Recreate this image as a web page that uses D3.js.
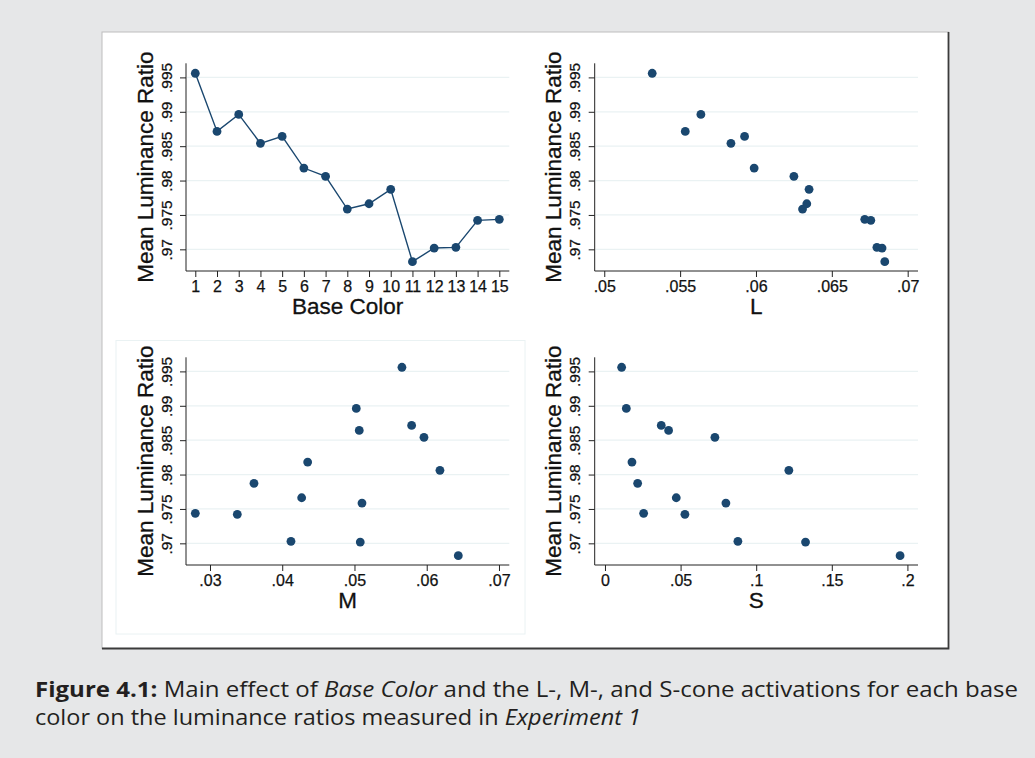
<!DOCTYPE html>
<html>
<head>
<meta charset="utf-8">
<script src="https://cdn.jsdelivr.net/npm/d3@7"></script>
<style>
  body { margin: 0; background: #e6e7e8; }
  svg text { font-family: "Liberation Sans", Arial, sans-serif; }
</style>
</head>
<body>
<div id="fig"></div>
<script>
// data (15 base colours)
const baseColor = [1, 2, 3, 4, 5, 6, 7, 8, 9, 10, 11, 12, 13, 14, 15];
const lumRatio = [.9956, .98715, .98962, .98541, .98642, .98182, .98061, .97586, .97663, .97872, .9682, .97019, .97029, .97422, .97436];
const coneL = [.05316, .05534, .05637, .05835, .05925, .05988, .0625, .06307, .06335, .0635, .06849, .06831, .06797, .06757, .06717];
const coneM = [.05657, .05791, .05025, .05962, .05066, .04352, .06183, .05104, .04269, .03609, .06437, .0508, .04121, .03378, .02797];
const coneS = [.01101, .03722, .0141, .07269, .04207, .01784, .12159, .07996, .04714, .0216, .19515, .13262, .08789, .05286, .02556];

// tick values
const yTicks = [.97, .975, .98, .985, .99, .995];
const baseTicks = [1, 2, 3, 4, 5, 6, 7, 8, 9, 10, 11, 12, 13, 14, 15];
const lTicks = [.05, .055, .06, .065, .07];
const mTicks = [.03, .04, .05, .06, .07];
const sTicks = [0, .05, .1, .15, .2];

const navy = "#1a476f";
const gridColor = "#eaf2f3";
const ink = "#111";

const W = 1035, H = 758;
const svg = d3.select("#fig").append("svg")
    .attr("width", W)
    .attr("height", H);

svg.append("rect").attr("width", W).attr("height", H).attr("fill", "#e6e7e8");

// white figure box with a darker right/bottom edge
svg.append("rect")
    .attr("x", 102).attr("y", 32)
    .attr("width", 846.5).attr("height", 616.5)
    .attr("fill", "#fff")
    .attr("stroke", "#bdbdbd")
    .attr("stroke-width", 1);
svg.append("path")
    .attr("d", "M948.5,32 V648.5 H102")
    .attr("fill", "none")
    .attr("stroke", "#3b3b3b")
    .attr("stroke-width", 1.8);

// faint graph-region border on the lower left panel
svg.append("rect")
    .attr("x", 116).attr("y", 340.5)
    .attr("width", 409).attr("height", 293.5)
    .attr("fill", "none")
    .attr("stroke", "#eaf2f3")
    .attr("stroke-width", 1);

const fmt = d => d === 0 ? "0" : String(+d.toFixed(4)).replace(/^0\./, ".");

const panels = [
    {dx: 0, dy: 0, x: baseColor, xDomain: [0.572, 15.46], ticks: baseTicks, title: "Base Color", line: true},
    {dx: 408.7, dy: 0, x: coneL, xDomain: [.04937, .07068], ticks: lTicks, title: "L"},
    {dx: 0, dy: 294, x: coneM, xDomain: [.02668, .07143], ticks: mTicks, title: "M"},
    {dx: 408.7, dy: 294, x: coneS, xDomain: [-.0068, .207], ticks: sTicks, title: "S"}
];

panels.forEach(p => {
    const left = 186 + p.dx, right = 509.3 + p.dx;
    const top = 63.3 + p.dy, bottom = 271 + p.dy;

    const x = d3.scaleLinear().domain(p.xDomain).range([left, right]);
    const y = d3.scaleLinear().domain([.96685, .99705]).range([bottom, top]);

    const g = svg.append("g");

    // horizontal grid
    g.append("g").selectAll("line")
        .data(yTicks)
        .enter().append("line")
        .attr("x1", left + 1).attr("x2", right)
        .attr("y1", d => y(d)).attr("y2", d => y(d))
        .attr("stroke", gridColor)
        .attr("stroke-width", 1.2);

    // axes
    const xAxis = g.append("g")
        .attr("transform", `translate(0,${bottom})`)
        .call(d3.axisBottom(x).tickValues(p.ticks).tickFormat(fmt).tickSize(6).tickPadding(4));
    xAxis.select(".domain").remove();
    xAxis.selectAll("text")
        .attr("font-size", 16)
        .attr("fill", ink)
        .attr("stroke", ink).attr("stroke-width", 0.25);

    const yAxis = g.append("g")
        .attr("transform", `translate(${left},0)`)
        .call(d3.axisLeft(y).tickValues(yTicks).tickFormat(fmt).tickSize(6));
    yAxis.select(".domain").remove();
    yAxis.selectAll("text")
        .attr("font-size", 15.5)
        .attr("fill", ink)
        .attr("stroke", ink).attr("stroke-width", 0.25)
        .attr("x", null).attr("dy", null)
        .attr("text-anchor", "middle")
        .attr("transform", "translate(-14.5,0) rotate(-90)");

    g.selectAll(".tick line").attr("stroke", "#222");

    g.append("line")
        .attr("x1", left).attr("x2", right)
        .attr("y1", bottom).attr("y2", bottom)
        .attr("stroke", "#222");
    g.append("line")
        .attr("x1", left).attr("x2", left)
        .attr("y1", top).attr("y2", bottom)
        .attr("stroke", "#222");

    // axis titles
    g.append("text")
        .attr("x", (left + right) / 2)
        .attr("y", bottom + 43)
        .attr("text-anchor", "middle")
        .attr("font-size", 22.5)
        .attr("fill", ink)
        .attr("stroke", ink).attr("stroke-width", 0.3)
        .text(p.title);
    g.append("text")
        .attr("transform", `translate(${left - 33.5},${(top + bottom) / 2}) rotate(-90)`)
        .attr("text-anchor", "middle")
        .attr("font-size", 22.5)
        .attr("fill", ink)
        .attr("stroke", ink).attr("stroke-width", 0.3)
        .text("Mean Luminance Ratio");

    const pts = p.x.map((v, i) => ({xv: v, yv: lumRatio[i]}));

    if (p.line) {
        g.append("path")
            .datum(pts)
            .attr("fill", "none")
            .attr("stroke", navy)
            .attr("stroke-width", 1.4)
            .attr("d", d3.line().x(d => x(d.xv)).y(d => y(d.yv)));
    }

    g.append("g").selectAll("circle")
        .data(pts)
        .enter().append("circle")
        .attr("cx", d => x(d.xv))
        .attr("cy", d => y(d.yv))
        .attr("r", 4.4)
        .attr("fill", navy);
});

// caption
const cap1 = svg.append("text")
    .attr("x", 35).attr("y", 697)
    .attr("font-size", 21)
    .attr("fill", "#231f20")
    .style("font-family", "'Open Sans', sans-serif")
    .attr("textLength", 983)
    .attr("lengthAdjust", "spacingAndGlyphs");
cap1.append("tspan").attr("font-weight", "bold").text("Figure 4.1: ");
cap1.append("tspan").text("Main effect of ");
cap1.append("tspan").attr("font-style", "italic").text("Base Color");
cap1.append("tspan").text(" and the L-, M-, and S-cone activations for each base");

const cap2 = svg.append("text")
    .attr("x", 35).attr("y", 725)
    .attr("font-size", 21)
    .attr("fill", "#231f20")
    .style("font-family", "'Open Sans', sans-serif")
    .attr("textLength", 606)
    .attr("lengthAdjust", "spacingAndGlyphs");
cap2.append("tspan").text("color on the luminance ratios measured in ");
cap2.append("tspan").attr("font-style", "italic").text("Experiment 1");
</script>
</body>
</html>
